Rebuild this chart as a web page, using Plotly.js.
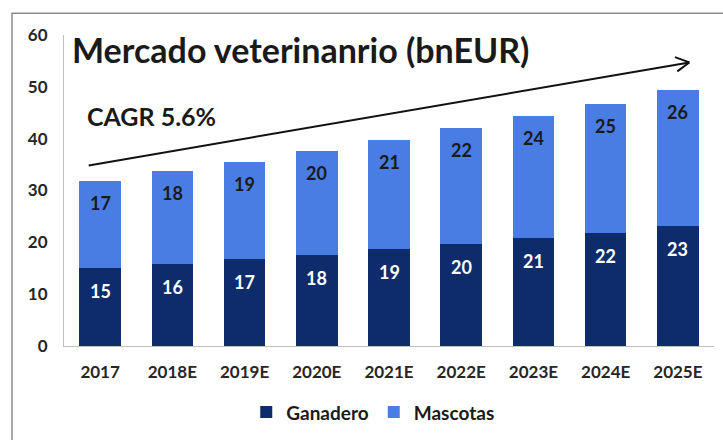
<!DOCTYPE html>
<html>
<head>
<meta charset="utf-8">
<script src="https://cdn.plot.ly/plotly-3.0.1.min.js"></script>
<style>html,body{margin:0;padding:0;background:#fff;}#chart{width:723px;height:440px;}</style>
</head>
<body>
<div id="chart"></div>
<script>
const categories = ['2017','2018E','2019E','2020E','2021E','2022E','2023E','2024E','2025E'];
const ganadero = [15.05, 15.75, 16.7, 17.65, 18.75, 19.65, 20.8, 21.85, 23.1];
const mascotas = [16.75, 17.95, 18.85, 19.9, 21.0, 22.35, 23.6, 24.9, 26.3];
const seriesNames = ['Ganadero', 'Mascotas'];
const yTicks = [0, 10, 20, 30, 40, 50, 60];
const titleText = 'Mercado veterinanrio (bnEUR)';
const cagrText = 'CAGR 5.6%';

const FONT = 'Lato, "Open Sans", sans-serif';
const navy = '#0e2c6b';
const blue = '#4a7de3';

const traces = [
  {type:'bar', name:seriesNames[0], x:categories, y:ganadero, marker:{color:navy}, hoverinfo:'none'},
  {type:'bar', name:seriesNames[1], x:categories, y:mascotas, marker:{color:blue}, hoverinfo:'none'}
];

const annotations = [];
categories.forEach((c,i)=>{
  annotations.push({x:i, y:ganadero[i], xref:'x', yref:'y', yshift:-23, showarrow:false,
    text:String(Math.round(ganadero[i])), font:{family:FONT, size:18, color:'#ffffff', weight:'bold'}});
  annotations.push({x:i, y:ganadero[i]+mascotas[i], xref:'x', yref:'y', yshift:-22, showarrow:false,
    text:String(Math.round(mascotas[i])), font:{family:FONT, size:18, color:'#1a1a1a', weight:'bold'}});
});
annotations.push({xref:'paper', yref:'paper', x:0.0092, y:0.954, xanchor:'left', yanchor:'middle', showarrow:false,
  text:titleText, font:{family:FONT, size:34, color:'#1a1a1a', weight:'bold'}});
annotations.push({xref:'paper', yref:'paper', x:0.033, y:0.739, xanchor:'left', yanchor:'middle', showarrow:false,
  text:cagrText, font:{family:FONT, size:25, color:'#1a1a1a', weight:'bold'}});

const lineStyle = {color:'#111111', width:2};
const shapes = [
  {type:'rect', xref:'paper', yref:'paper', x0:-0.08, y0:1.07, x1:1.03, y1:-0.33, line:{color:'#8c8c8c', width:1.5}, fillcolor:'rgba(0,0,0,0)', layer:'below'},
  {type:'line', xref:'paper', yref:'paper', x0:0.038, y0:0.5806, x1:0.962, y1:0.9118, line:lineStyle},
  {type:'line', xref:'paper', yref:'paper', x0:0.940, y0:0.929, x1:0.962, y1:0.9118, line:lineStyle},
  {type:'line', xref:'paper', yref:'paper', x0:0.9435, y0:0.8831, x1:0.962, y1:0.9118, line:lineStyle}
];

const layout = {
  width:723, height:440,
  margin:{l:64, r:9, t:35, b:91},
  paper_bgcolor:'#ffffff', plot_bgcolor:'#ffffff',
  barmode:'stack', bargap:0.425,
  showlegend:true,
  legend:{orientation:'h', traceorder:'normal', x:0.475, xanchor:'center', y:-0.213, yanchor:'middle',
    font:{family:FONT, size:19, color:'#1a1a1a', weight:'bold'}, itemclick:false},
  xaxis:{type:'category', range:[-0.5, categories.length-0.5], showline:true, linecolor:'#bfbfbf', linewidth:1, ticks:'', showgrid:false,
    tickfont:{family:FONT, size:17, color:'#262626', weight:'bold'}, ticklabelstandoff:11},
  yaxis:{range:[0,60], tickvals:yTicks, showline:true, linecolor:'#bfbfbf', linewidth:1, ticks:'', showgrid:false,
    zeroline:false, tickfont:{family:FONT, size:17, color:'#262626', weight:'bold'}, ticklabelstandoff:12},
  annotations:annotations,
  shapes:shapes
};

Plotly.newPlot('chart', traces, layout, {displayModeBar:false, staticPlot:true});
</script>
</body>
</html>
